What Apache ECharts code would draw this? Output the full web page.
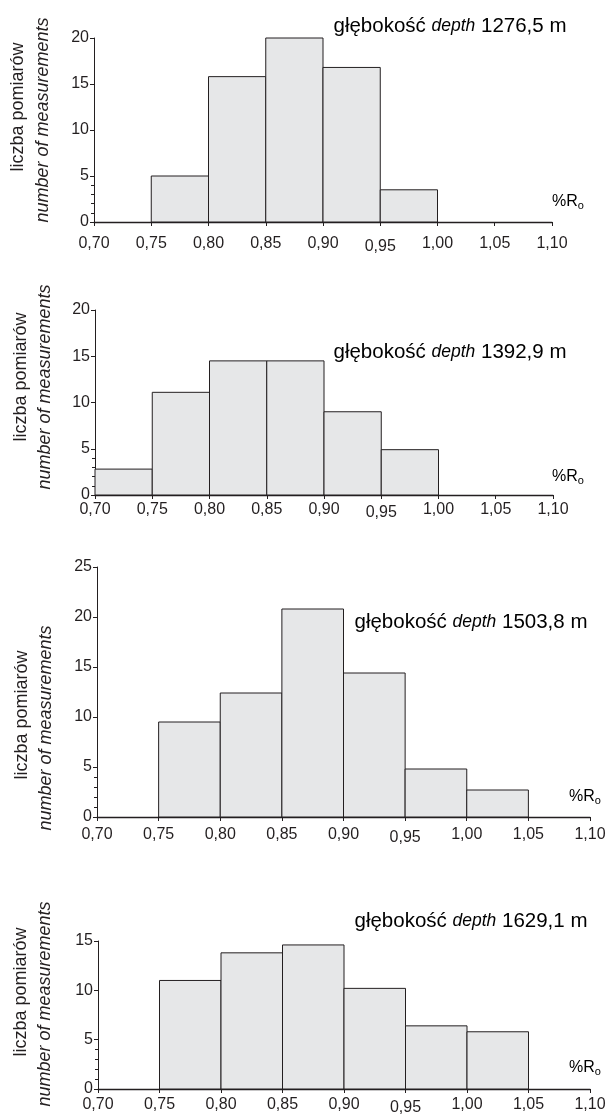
<!DOCTYPE html>
<html>
<head>
<meta charset="utf-8">
<script src="https://cdn.jsdelivr.net/npm/echarts@6/dist/echarts.min.js"></script>
<style>
  html, body { margin: 0; padding: 0; background: #fff; }
  #chart { width: 613px; height: 1115px; }
</style>
</head>
<body>
<div id="chart"></div>
<script>
// bins of %Ro, each 0.05 wide
var binStart = [0.70, 0.75, 0.80, 0.85, 0.90, 0.95, 1.00, 1.05];
var binWidth = 0.05;
// number of measurements per bin, one array per depth
var counts1276 = [0, 5.0, 15.8, 20.0, 16.8, 3.5, 0, 0];
var counts1392 = [2.8, 11.1, 14.5, 14.5, 9.0, 4.9, 0, 0];
var counts1503 = [0, 9.5, 12.4, 20.8, 14.4, 4.8, 2.7, 0];
var counts1629 = [0, 11.0, 13.8, 14.6, 10.2, 6.4, 5.8, 0];
var depthLabels = ['1276,5', '1392,9', '1503,8', '1629,1'];
var yMaxes = [20, 20, 25, 15];
var yMinorTicks = [1, 2, 3, 4];
var xMin = 0.70, xMax = 1.10, xStep = 0.05, yStep = 5;

var allCounts = [counts1276, counts1392, counts1503, counts1629];

var ink = '#231f20';
var fill = '#e6e7e8';
var font = "'Liberation Sans', Arial, sans-serif";

// panel geometry (px)
var panels = [
    {left: 94, top: 38,  width: 458, height: 184, labelGap: 14, titleX: 450, titleY: 26,  roX: 568, roY: 202,
        n1: [18, 107], n2: [43, 120]},
    {left: 95, top: 310, width: 458, height: 185, labelGap: 7, titleX: 450, titleY: 352, roX: 568, roY: 477,
        n1: [21, 377], n2: [45, 387]},
    {left: 97, top: 567, width: 493, height: 250, labelGap: 10, titleX: 471, titleY: 622, roX: 585, roY: 797,
        n1: [22, 715], n2: [46, 728]},
    {left: 98, top: 941, width: 492, height: 148, labelGap: 8, titleX: 471, titleY: 921, roX: 585, roY: 1068,
        n1: [21, 992], n2: [45, 1004]}
];

var chart = echarts.init(document.getElementById('chart'));

var grids = [], xAxes = [], yAxes = [], series = [], graphics = [];

panels.forEach(function (p, i) {
    grids.push({left: p.left, top: p.top, width: p.width, height: p.height,
        containLabel: false, outerBoundsMode: 'none'});

    xAxes.push({
        type: 'value', gridIndex: i, min: xMin, max: xMax, interval: xStep,
        axisLine: {show: true, lineStyle: {color: ink, width: 1.3}},
        axisTick: {show: true, length: 4, lineStyle: {color: ink, width: 1}},
        splitLine: {show: false},
        axisLabel: {
            color: ink, fontSize: 16, fontFamily: font, margin: p.labelGap,
            showMinLabel: true, showMaxLabel: true,
            formatter: function (v) {
                var s = v.toFixed(2).replace('.', ',');
                return Math.abs(v - 0.95) < 1e-6 ? '{low|' + s + '}' : s;
            },
            rich: {low: {fontSize: 16, fontFamily: font, color: ink, padding: [3, 0, 0, 0]}}
        }
    });

    yAxes.push({
        type: 'value', gridIndex: i, min: 0, max: yMaxes[i], interval: yStep,
        axisLine: {show: true, lineStyle: {color: ink, width: 1}},
        axisTick: {show: true, length: 4, lineStyle: {color: ink, width: 1}},
        splitLine: {show: false},
        axisLabel: {color: ink, fontSize: 16, fontFamily: font, margin: 5}
    });
    // short ticks between 0 and 5
    yAxes.push({
        type: 'value', gridIndex: i, min: 0, max: yMaxes[i], position: 'left', offset: 0,
        axisLine: {show: false},
        axisTick: {show: true, length: 3, customValues: yMinorTicks, lineStyle: {color: ink, width: 1}},
        axisLabel: {show: false},
        splitLine: {show: false}
    });

    var data = [];
    allCounts[i].forEach(function (c, k) {
        if (c > 0) data.push([binStart[k], binStart[k] + binWidth, c]);
    });

    series.push({
        type: 'custom', xAxisIndex: i, yAxisIndex: i * 2,
        data: data,
        encode: {x: [0, 1], y: 2},
        renderItem: function (params, api) {
            var a = api.coord([api.value(0), api.value(2)]);
            var b = api.coord([api.value(1), 0]);
            return {
                type: 'rect',
                shape: {x: a[0], y: a[1], width: b[0] - a[0], height: b[1] - a[1]},
                style: {fill: fill, stroke: ink, lineWidth: 1}
            };
        }
    });

    graphics.push({
        type: 'text', x: p.titleX, y: p.titleY,
        style: {
            text: '{n|głębokość }{i|depth}{n| ' + depthLabels[i] + ' m}',
            align: 'center', verticalAlign: 'middle',
            rich: {
                n: {fontSize: 20.5, fontFamily: font, color: ink},
                i: {fontSize: 17.5, fontFamily: font, fontStyle: 'italic', color: ink}
            }
        }
    });
    graphics.push({
        type: 'text', x: p.roX, y: p.roY,
        style: {
            text: '{a|%R}{b|o}',
            align: 'center', verticalAlign: 'middle',
            rich: {
                a: {fontSize: 16, fontFamily: font, color: ink},
                b: {fontSize: 11, fontFamily: font, color: ink, padding: [7, 0, 0, 0]}
            }
        }
    });
    graphics.push({
        type: 'text', x: p.n1[0], y: p.n1[1], rotation: Math.PI / 2,
        style: {text: 'liczba pomiarów', align: 'center', verticalAlign: 'middle',
            fontSize: 18, fontFamily: font, fill: ink}
    });
    graphics.push({
        type: 'text', x: p.n2[0], y: p.n2[1], rotation: Math.PI / 2,
        style: {text: 'number of measurements', align: 'center', verticalAlign: 'middle',
            fontSize: 18, fontFamily: font, fontStyle: 'italic', fill: ink}
    });
});

chart.setOption({
    animation: false,
    backgroundColor: '#fff',
    grid: grids,
    xAxis: xAxes,
    yAxis: yAxes,
    series: series,
    graphic: graphics
});
</script>
</body>
</html>
